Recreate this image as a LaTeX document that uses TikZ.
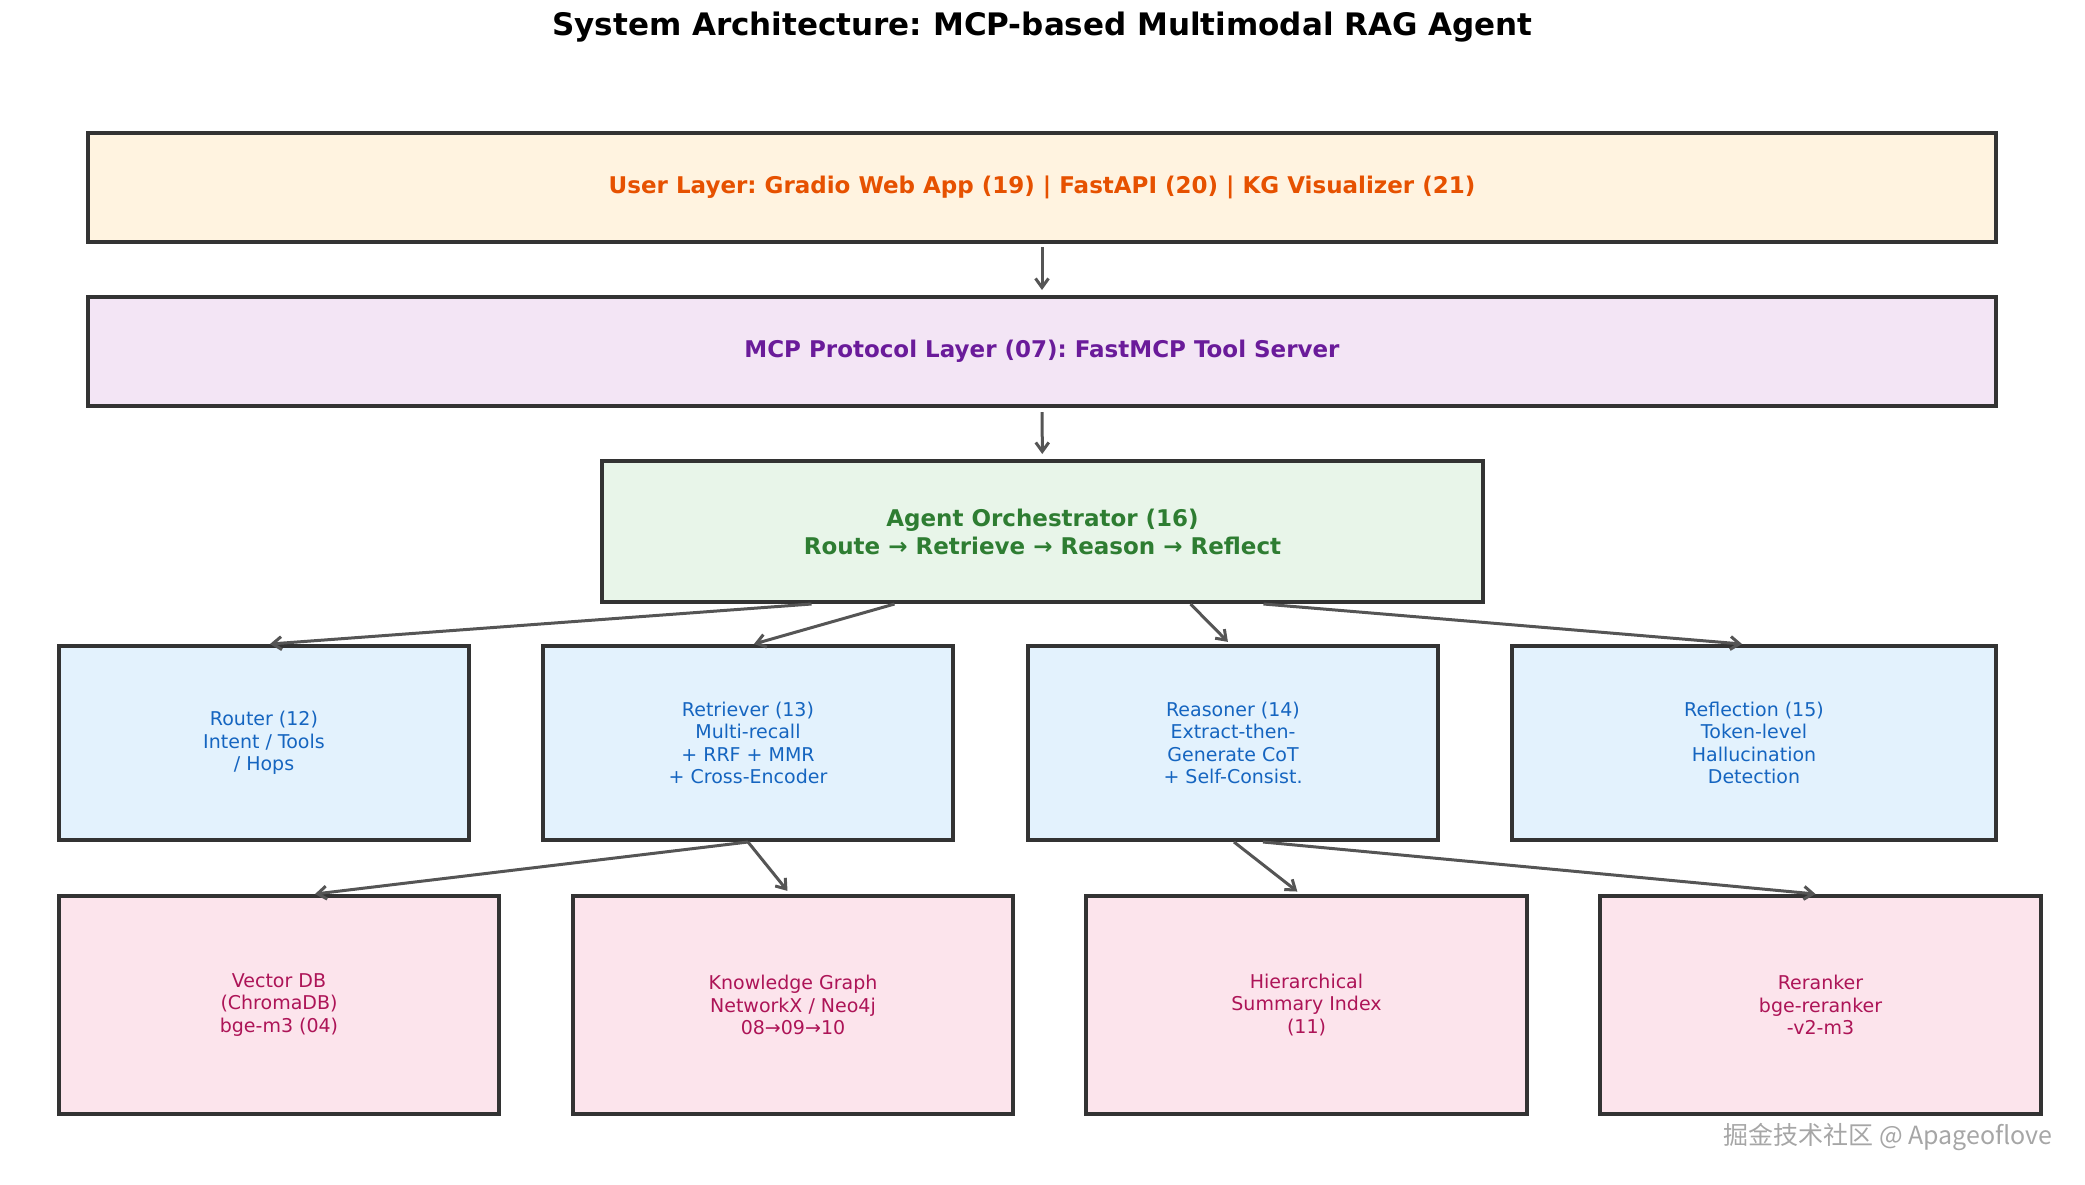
\documentclass[tikz,border=0pt]{standalone}
\usepackage{fontspec}
\setmainfont{DejaVu Sans}
\newfontfamily\cjkfont{Noto Sans CJK SC}
\usepackage{xcolor}
\usetikzlibrary{arrows.meta, positioning}
\definecolor{edgegray}{HTML}{333333}
\definecolor{arrowgray}{HTML}{555555}
\definecolor{userfill}{HTML}{FFF3E0}
\definecolor{usertext}{HTML}{E65100}
\definecolor{mcpfill}{HTML}{F3E5F5}
\definecolor{mcptext}{HTML}{6A1B9A}
\definecolor{orchfill}{HTML}{E8F5E9}
\definecolor{orchtext}{HTML}{2E7D32}
\definecolor{agentfill}{HTML}{E3F2FD}
\definecolor{agenttext}{HTML}{1565C0}
\definecolor{storefill}{HTML}{FCE4EC}
\definecolor{storetext}{HTML}{AD1457}
\frenchspacing

\begin{document}
\begin{tikzpicture}[x=1pt, y=-1pt,
  layer/.style={rectangle, draw=edgegray, line width=4pt, minimum width=1908pt, minimum height=109pt, align=center, font=\fontsize{23}{28}\selectfont\bfseries},
  orch/.style={rectangle, draw=edgegray, fill=orchfill, line width=4pt, minimum width=881pt, minimum height=141pt, align=center, text=orchtext, font=\fontsize{23}{28}\selectfont\bfseries},
  agent/.style={rectangle, draw=edgegray, fill=agentfill, line width=4pt, minimum width=410pt, minimum height=194pt, align=center, text=agenttext, font=\fontsize{19}{22.3}\selectfont},
  store/.style={rectangle, draw=edgegray, fill=storefill, line width=4pt, minimum width=440pt, minimum height=218pt, align=center, text=storetext, font=\fontsize{19}{22.3}\selectfont},
  arrow/.style={-{Straight Barb[length=9pt,width=13pt]}, line width=3pt, color=arrowgray}
]
  \useasboundingbox (0,0) rectangle (2085,1184);

  \node[font=\fontsize{31}{36}\selectfont\bfseries] (title) at (1042.5,27) {System Architecture: MCP-based Multimodal RAG Agent};

  % layers
  \node[layer, fill=userfill, text=usertext] (user) at (1042,187.5) {User Layer: Gradio Web App (19) | FastAPI (20) | KG Visualizer (21)};
  \node[layer, fill=mcpfill, text=mcptext] (mcp) at (1042,351.5) {MCP Protocol Layer (07): FastMCP Tool Server};
  \node[orch] (orchestrator) at (1042.5,531.5) {Agent Orchestrator (16)\\Route → Retrieve → Reason → Reflect};

  % agents
  \node[agent] (router) at (264,743) {Router (12)\\Intent / Tools\\/ Hops};
  \node[agent] (retriever) at (748,743) {Retriever (13)\\Multi-recall\\+ RRF + MMR\\+ Cross-Encoder};
  \node[agent] (reasoner) at (1233,743) {Reasoner (14)\\Extract-then-\\Generate CoT\\+ Self-Consist.};
  \node[agent, minimum width=484pt] (reflection) at (1754,743) {Reflection (15)\\Token-level\\Hallucination\\Detection};

  % stores
  \node[store] (vectordb) at (279,1005) {Vector DB\\(ChromaDB)\\bge-m3 (04)};
  \node[store] (kgraph) at (793,1005) {Knowledge Graph\\NetworkX / Neo4j\\08→09→10};
  \node[store, minimum width=441pt] (hierindex) at (1306.5,1005) {Hierarchical\\Summary Index\\(11)};
  \node[store, minimum width=441pt] (reranker) at (1820.5,1005) {Reranker\\bge-reranker\\-v2-m3};

  \draw[arrow, shorten <=3pt, shorten >=5pt] (user) -- (mcp);
  \draw[arrow, shorten <=4pt, shorten >=5pt] (mcp) -- (orchestrator);

  \draw[arrow] ([xshift=-231pt]orchestrator.south) -- ([xshift=6pt]router.north);
  \draw[arrow] ([xshift=-148pt]orchestrator.south) -- ([xshift=6pt]retriever.north);
  \draw[arrow, shorten >=3pt] ([xshift=148pt]orchestrator.south) -- ([xshift=-3pt]reasoner.north);
  \draw[arrow] ([xshift=221pt]orchestrator.south) -- ([xshift=-12pt]reflection.north);

  \draw[arrow] (retriever.south) -- ([xshift=36pt]vectordb.north);
  \draw[arrow, shorten >=4pt] (retriever.south) -- ([xshift=-3pt]kgraph.north);
  \draw[arrow, shorten >=4pt] ([xshift=1pt]reasoner.south) -- ([xshift=-6pt]hierindex.north);
  \draw[arrow] ([xshift=30pt]reasoner.south) -- ([xshift=-5pt]reranker.north);

  \node[font=\cjkfont\fontsize{25}{30}\selectfont, text=gray!70] (mark) at (1888,1137) {掘金技术社区 @ Apageoflove};
\end{tikzpicture}
\end{document}
